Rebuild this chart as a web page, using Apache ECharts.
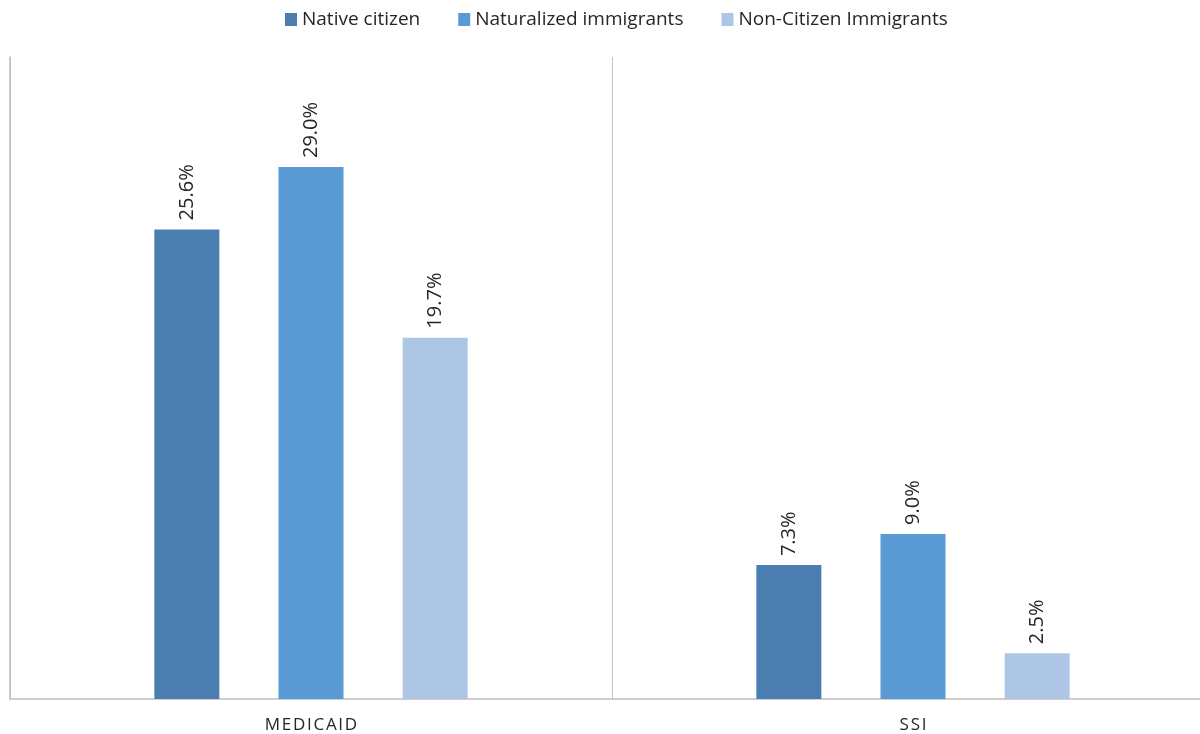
<!DOCTYPE html>
<html>
<head>
<meta charset="utf-8">
<title>Medicaid and SSI use by citizenship status</title>
<script src="https://cdn.jsdelivr.net/npm/echarts@6/dist/echarts.min.js"></script>
<style>
  html, body { margin: 0; padding: 0; background: #ffffff; overflow: hidden; }
  /* the plot runs a little past the right edge of the window */
  #chart { width: 1214px; height: 734px; }
</style>
</head>
<body>
<div id="chart"></div>
<script>
// Programs shown along the x axis
const programs = ['MEDICAID', 'SSI'];

// Share of each group using the program (percent)
const nativeCitizen = [25.6, 7.3];
const naturalizedImmigrants = [29.0, 9.0];
const nonCitizenImmigrants = [19.7, 2.5];

const seriesNames = ['Native citizen', 'Naturalized immigrants', 'Non-Citizen Immigrants'];
const seriesColors = ['#4a7eb0', '#5b9bd5', '#adc6e5'];

const FONT = '"Open Sans", "Liberation Sans", sans-serif';

function barSeries(name, values, color) {
  return {
    name: name,
    type: 'bar',
    data: values,
    barWidth: 65,
    barGap: '91%',
    itemStyle: { color: color },
    label: {
      show: true,
      position: 'top',
      rotate: 90,
      align: 'left',
      verticalAlign: 'middle',
      distance: 9,
      fontFamily: FONT,
      fontSize: 20,
      color: '#262626',
      formatter: p => p.value.toFixed(1) + '%'
    }
  };
}

const chart = echarts.init(document.getElementById('chart'), null, { renderer: 'canvas' });

chart.setOption({
  animation: false,
  backgroundColor: '#ffffff',
  legend: {
    top: 5,
    left: 280,
    itemWidth: 12,
    itemHeight: 13,
    itemGap: 38,
    icon: 'rect',
    textStyle: { fontFamily: FONT, fontSize: 19, color: '#262626' },
    data: seriesNames
  },
  grid: { left: 10, top: 57, right: 0, bottom: 34, containLabel: false },
  xAxis: {
    type: 'category',
    data: programs,
    axisLine: { show: true, lineStyle: { color: '#bfbfbf', width: 1.5 } },
    axisTick: { show: false },
    splitLine: { show: true, lineStyle: { color: '#c4c4c4', width: 1 } },
    axisLabel: {
      margin: 18,
      fontFamily: FONT,
      fontSize: 17,
      color: '#262626',
      formatter: v => v.split('').join('\u200A')
    }
  },
  yAxis: {
    type: 'value',
    min: 0,
    max: 35,
    axisLine: { show: true, lineStyle: { color: '#bfbfbf', width: 1.5 } },
    axisTick: { show: false },
    axisLabel: { show: false },
    splitLine: { show: false }
  },
  series: [
    barSeries(seriesNames[0], nativeCitizen, seriesColors[0]),
    barSeries(seriesNames[1], naturalizedImmigrants, seriesColors[1]),
    barSeries(seriesNames[2], nonCitizenImmigrants, seriesColors[2])
  ]
});
</script>
</body>
</html>
